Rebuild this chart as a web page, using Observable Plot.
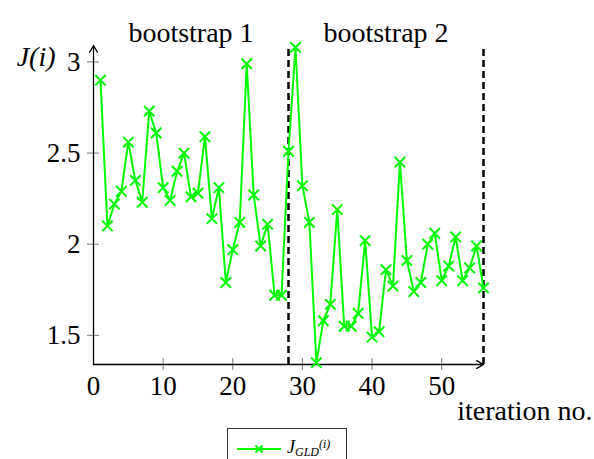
<!DOCTYPE html>
<html>
<head>
<meta charset="utf-8">
<script src="https://cdn.jsdelivr.net/npm/d3@7"></script>
<script src="https://cdn.jsdelivr.net/npm/@observablehq/plot@0.6"></script>
<style>
  html, body { margin: 0; padding: 0; background: #fff; overflow: hidden; }
  #chart { width: 594px; height: 459px; overflow: hidden; }
  #chart svg { display: block; }
  #chart svg text { font-family: "Liberation Serif", serif !important; }
  .legend {
    margin-left: 227px; width: 120px; height: 38px; box-sizing: border-box;
    border: 1px solid #333; border-bottom: none; display: flex; align-items: center;
    padding-left: 9px; padding-top: 2px; font-family: "Liberation Serif", serif; font-size: 18px; color: #000;
  }
  .legend svg { margin-right: 6px; }
  .legend sub { font-size: 12px; font-style: italic; vertical-align: -3px; }
  .legend sup { font-size: 12px; font-style: italic; vertical-align: 5px; }
</style>
</head>
<body>
<div id="chart"></div>
<script>
// Objective J(i) per iteration, two bootstrap runs of 28 iterations each
const iterations = [
  1, 2, 3, 4, 5, 6, 7, 8, 9, 10, 11, 12, 13, 14, 15, 16, 17, 18, 19, 20,
  21, 22, 23, 24, 25, 26, 27, 28, 29, 30, 31, 32, 33, 34, 35, 36, 37, 38, 39, 40,
  41, 42, 43, 44, 45, 46, 47, 48, 49, 50, 51, 52, 53, 54, 55, 56
];
const jGLD = [
  2.90, 2.10, 2.22, 2.29, 2.56, 2.35, 2.23, 2.73, 2.61, 2.31,
  2.24, 2.40, 2.50, 2.26, 2.28, 2.59, 2.14, 2.31, 1.79, 1.97,
  2.12, 2.99, 2.27, 1.99, 2.11, 1.72, 1.72, 2.51, 3.08, 2.32,
  2.12, 1.35, 1.58, 1.67, 2.19, 1.55, 1.55, 1.62, 2.02, 1.49,
  1.52, 1.86, 1.77, 2.45, 1.91, 1.74, 1.79, 2.00, 2.06, 1.80,
  1.88, 2.04, 1.80, 1.87, 1.99, 1.76
];
const bootstrapEnds = [28, 56];
const bootstrapLabels = ["bootstrap 1", "bootstrap 2"];
const xTicks = [0, 10, 20, 30, 40, 50];
const yTicks = [1.5, 2, 2.5, 3];

const xDomain = [0, 56];
const yDomain = [1.34, 3.09];

const data = iterations.map((it, i) => ({it, j: jGLD[i]}));
const labelRows = bootstrapLabels.map((label, i) => ({
  label,
  mid: ((i === 0 ? xDomain[0] : bootstrapEnds[i - 1]) + bootstrapEnds[i]) / 2
}));

const font = "'Liberation Serif', serif";
const green = "#00ff00";

const plot = Plot.plot({
  width: 594,
  height: 428,
  marginLeft: 93,
  marginRight: 111,
  marginTop: 45,
  marginBottom: 64,
  style: {fontFamily: font, fontSize: "27px", color: "#000", background: "#fff"},
  x: {domain: xDomain, label: null},
  y: {domain: yDomain, label: null},
  marks: [
    // tick marks crossing the axes
    Plot.axisX(xTicks.slice(1), {tickSize: 6, text: null, label: null, stroke: "#777"}),
    Plot.axisX(xTicks.slice(1), {tickSize: 6, text: null, label: null, stroke: "#777", dy: -6}),
    Plot.axisX(xTicks, {tickSize: 0, tickPadding: 11, label: null, fontSize: 27, fill: "#000"}),
    Plot.axisY(yTicks, {tickSize: 6, text: null, label: null, stroke: "#777"}),
    Plot.axisY(yTicks, {tickSize: 6, text: null, label: null, stroke: "#777", dx: 6}),
    Plot.axisY(yTicks, {tickSize: 0, tickPadding: 13, label: null, tickFormat: d => String(d), fontSize: 27, fill: "#000"}),
    // axis lines with arrow heads
    Plot.arrow([0], {x1: xDomain[0], x2: xDomain[1], y1: yDomain[0], y2: yDomain[0], stroke: "#000", strokeWidth: 1.3, headLength: 9}),
    Plot.arrow([0], {x1: xDomain[0], x2: xDomain[0], y1: yDomain[0], y2: yDomain[1], stroke: "#000", strokeWidth: 1.3, headLength: 9}),
    // bootstrap boundaries
    Plot.ruleX(bootstrapEnds, {y1: yDomain[0], y2: yDomain[1], stroke: "#000", strokeWidth: 2.5, strokeDasharray: "7,4"}),
    // series
    Plot.line(data, {x: "it", y: "j", stroke: green, strokeWidth: 2}),
    Plot.dot(data, {x: "it", y: "j", symbol: "times", r: 4.8, stroke: green, strokeWidth: 2}),
    // run labels and axis titles
    Plot.text(labelRows, {x: "mid", text: "label", frameAnchor: "top", dy: -23, fontSize: 28, fill: "#000"}),
    Plot.text(["J(i)"], {frameAnchor: "top-left", text: d => d, textAnchor: "end", dx: -38, dy: 1, fontSize: 28, fontStyle: "italic", fill: "#000"}),
    Plot.text(["iteration no."], {frameAnchor: "bottom-right", text: d => d, textAnchor: "end", dx: 109, dy: 55, fontSize: 28, fill: "#000"})
  ]
});

const chart = document.getElementById("chart");
chart.appendChild(plot);

// legend below the plot
const legend = document.createElement("div");
legend.className = "legend";
legend.innerHTML =
  `<svg width="44" height="12"><line x1="0" y1="6" x2="44" y2="6" stroke="${green}" stroke-width="2"/>` +
  `<path d="M18.5,2.5L25.5,9.5M25.5,2.5L18.5,9.5" stroke="${green}" stroke-width="2"/></svg>` +
  `<span><i>J</i><sub>GLD</sub><sup>(i)</sup></span>`;
chart.appendChild(legend);
</script>
</body>
</html>
